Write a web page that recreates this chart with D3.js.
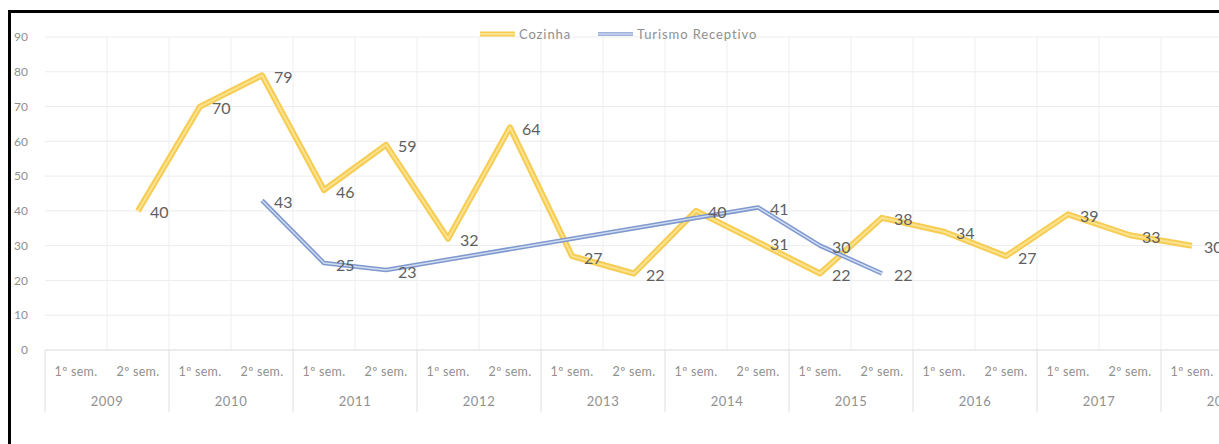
<!DOCTYPE html>
<html>
<head>
<meta charset="utf-8">
<script src="https://cdn.jsdelivr.net/npm/d3@7"></script>
<style>
  html, body { margin: 0; padding: 0; background: #fff; }
  svg { display: block; font-family: Lato, "Open Sans", sans-serif; }
</style>
</head>
<body>
<svg id="chart" width="1219" height="444"></svg>
<script>
// Semester categories grouped by year
const years = ["2009", "2010", "2011", "2012", "2013", "2014", "2015", "2016", "2017", "2018"];
const semesters = ["1º sem.", "2º sem."];

// Series values per semester (null = no data)
const cozinha = [null, 40, 70, 79, 46, 59, 32, 64, 27, 22, 40, 31, 22, 38, 34, 27, 39, 33, 30, null];
const turismo = [null, null, null, 43, 25, 23, null, null, null, null, null, 41, 30, 22, null, null, null, null, null, null];

const yTicks = [0, 10, 20, 30, 40, 50, 60, 70, 80, 90];

const seriesNames = ["Cozinha", "Turismo Receptivo"];

const categories = [];
years.forEach(y => semesters.forEach(s => categories.push({ key: y + "|" + s, year: y, sem: s })));

const svg = d3.select("#chart");
const W = 1219, H = 444;

const plotLeft = 45, step = 62;
const x = d3.scaleBand()
  .domain(categories.map(c => c.key))
  .range([plotLeft, plotLeft + step * categories.length])
  .padding(0);
const y = d3.scaleLinear().domain([0, 90]).range([350, 37]);

const cx = i => x(categories[i].key) + x.bandwidth() / 2;

// Gridlines
const grid = svg.append("g");
grid.selectAll("line.h").data(yTicks.filter(t => t > 0)).join("line")
  .attr("x1", plotLeft).attr("x2", W)
  .attr("y1", d => y(d)).attr("y2", d => y(d))
  .attr("stroke", "#ececec").attr("stroke-width", 1);
grid.selectAll("line.v").data(categories.slice(1)).join("line")
  .attr("x1", d => x(d.key)).attr("x2", d => x(d.key))
  .attr("y1", y(90)).attr("y2", y(0))
  .attr("stroke", "#efefef").attr("stroke-width", 1);

// Category axis line
svg.append("line")
  .attr("x1", plotLeft).attr("x2", W)
  .attr("y1", y(0)).attr("y2", y(0))
  .attr("stroke", "#d9d9d9").attr("stroke-width", 1);

// Year separators in the axis area
const yearEdges = years.map(yr => x(yr + "|" + semesters[0]));
svg.append("g").selectAll("line").data(yearEdges).join("line")
  .attr("x1", d => d).attr("x2", d => d)
  .attr("y1", y(0)).attr("y2", 412)
  .attr("stroke", "#dedede").attr("stroke-width", 1);

const axisGray = "#909090";

// Y axis labels
svg.append("g").selectAll("text").data(yTicks).join("text")
  .attr("x", 28).attr("y", d => y(d))
  .attr("dy", "0.35em")
  .attr("text-anchor", "end")
  .attr("font-size", 12)
  .attr("fill", axisGray)
  .text(d => d);

// Semester labels
svg.append("g").selectAll("text").data(categories).join("text")
  .attr("x", (d, i) => cx(i)).attr("y", 372)
  .attr("dy", "0.35em")
  .attr("text-anchor", "middle")
  .attr("font-size", 12.5)
  .attr("letter-spacing", "0.3px")
  .attr("fill", axisGray)
  .text(d => d.sem);

// Year labels
svg.append("g").selectAll("text").data(years).join("text")
  .attr("x", d => x(d + "|" + semesters[0]) + x.bandwidth())
  .attr("y", 401)
  .attr("dy", "0.35em")
  .attr("text-anchor", "middle")
  .attr("font-size", 13)
  .attr("letter-spacing", "0.6px")
  .attr("fill", axisGray)
  .text(d => d);

// Line styles: a wide outer stroke with a lighter inner stroke
const styles = [
  { outer: "#f6cd52", outerW: 6, inner: "#fbe290", innerW: 2 },
  { outer: "#7f99cf", outerW: 4.5, inner: "#d3ddf1", innerW: 1.4 }
];
const seriesData = [cozinha, turismo];

const line = d3.line()
  .x(d => cx(d.i))
  .y(d => y(d.v))
  .curve(d3.curveLinear);

seriesData.forEach((vals, s) => {
  const pts = vals.map((v, i) => ({ v, i })).filter(d => d.v !== null);
  const st = styles[s];
  const g = svg.append("g");
  g.append("path").datum(pts).attr("d", line)
    .attr("fill", "none").attr("stroke", st.outer).attr("stroke-width", st.outerW)
    .attr("stroke-linejoin", "round").attr("stroke-linecap", "butt");
  g.append("path").datum(pts).attr("d", line)
    .attr("fill", "none").attr("stroke", st.inner).attr("stroke-width", st.innerW)
    .attr("stroke-linejoin", "round").attr("stroke-linecap", "butt");
});

// Data labels to the right of each point
seriesData.forEach(vals => {
  const pts = vals.map((v, i) => ({ v, i })).filter(d => d.v !== null);
  svg.append("g").selectAll("text").data(pts).join("text")
    .attr("x", d => cx(d.i) + 12)
    .attr("y", d => y(d.v) + 2)
    .attr("dy", "0.35em")
    .attr("font-size", 16)
    .attr("fill", "#5f5f5f")
    .text(d => d.v);
});

// Legend
const legend = svg.append("g");
const legendItems = [
  { name: seriesNames[0], x0: 480 },
  { name: seriesNames[1], x0: 598 }
];
legendItems.forEach((it, s) => {
  const st = styles[s];
  legend.append("line").attr("x1", it.x0).attr("x2", it.x0 + 35).attr("y1", 34).attr("y2", 34)
    .attr("stroke", st.outer).attr("stroke-width", st.outerW - 1);
  legend.append("line").attr("x1", it.x0).attr("x2", it.x0 + 35).attr("y1", 34).attr("y2", 34)
    .attr("stroke", st.inner).attr("stroke-width", st.innerW);
  legend.append("text").attr("x", it.x0 + 39).attr("y", 34).attr("dy", "0.35em")
    .attr("font-size", 13).attr("fill", axisGray).attr("letter-spacing", "0.9px")
    .text(it.name);
});

// Frame
svg.append("path")
  .attr("d", `M9.5,${H} L9.5,11.5 L${W},11.5`)
  .attr("fill", "none").attr("stroke", "#000").attr("stroke-width", 3);
</script>
</body>
</html>
